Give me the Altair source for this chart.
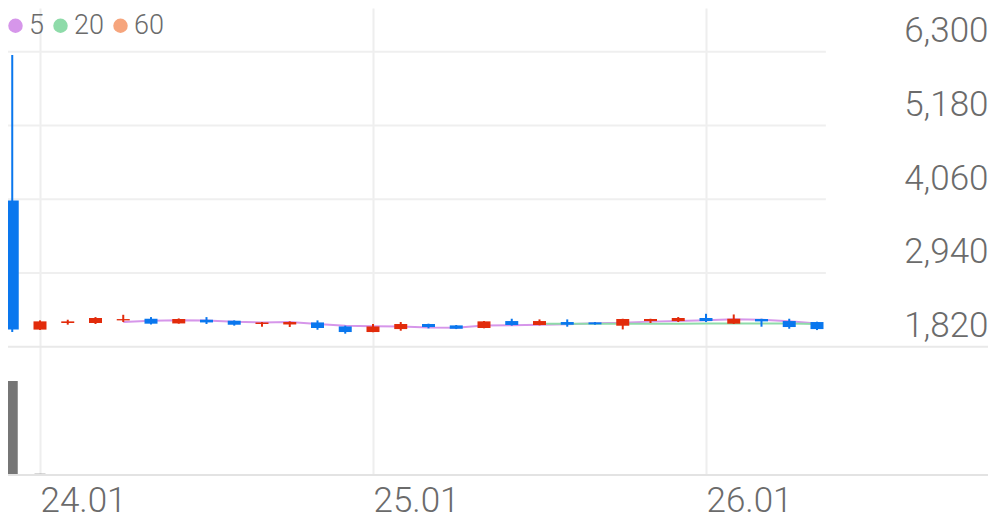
import altair as alt
import pandas as pd

months = ["23.12", "24.01", "24.02", "24.03", "24.04", "24.05", "24.06", "24.07", "24.08", "24.09",
          "24.10", "24.11", "24.12", "25.01", "25.02", "25.03", "25.04", "25.05", "25.06", "25.07",
          "25.08", "25.09", "25.10", "25.11", "25.12", "26.01", "26.02", "26.03", "26.04", "26.05"]
opens = [4040, 2080, 2180, 2180, 2220, 2245, 2174, 2230, 2215, 2165,
         2158, 2189, 2128, 2043, 2088, 2165, 2144, 2104, 2210, 2150,
         2195, 2190, 2139, 2210, 2210, 2256, 2170, 2241, 2210, 2195]
highs = [6250, 2220, 2230, 2270, 2305, 2270, 2250, 2270, 2220, 2195,
         2205, 2220, 2140, 2165, 2195, 2170, 2150, 2210, 2245, 2235,
         2235, 2195, 2245, 2245, 2271, 2320, 2310, 2245, 2245, 2200]
lows = [2045, 2075, 2155, 2165, 2195, 2158, 2170, 2165, 2140, 2124,
        2120, 2078, 2018, 2040, 2063, 2099, 2088, 2100, 2140, 2145,
        2124, 2155, 2083, 2180, 2195, 2195, 2165, 2124, 2093, 2073]
closes = [2080, 2205, 2205, 2256, 2240, 2170, 2241, 2189, 2154, 2189,
          2195, 2104, 2043, 2128, 2165, 2119, 2093, 2205, 2150, 2210,
          2154, 2160, 2241, 2241, 2256, 2210, 2245, 2205, 2119, 2088]
volumes = [3800000, 52000, 26000, 9000, 7000, 6000, 5000, 5000, 4000, 5000,
           4000, 6000, 9000, 7000, 5000, 4000, 5000, 6000, 5000, 4000,
           4000, 3000, 5000, 4000, 4000, 6000, 5000, 4000, 9000, 5000]

price_ticks = [1820, 2940, 4060, 5180, 6300]
ma_series = ["5", "20", "60"]
ma_colors = ["#d696ea", "#8edba9", "#f6a57d"]
UP = "#e22b0b"
DOWN = "#0a77ee"
VOL = "#767676"
TXT = "#6b6b6b"
FONT = "Roboto"

df = pd.DataFrame({"idx": list(range(len(months))), "month": months, "open": opens,
                   "high": highs, "low": lows, "close": closes, "volume": volumes})

W, H = 980, 467
x0 = -0.153
x1 = x0 + W / 27.75
grid_end = 29.32
xscale = alt.Scale(domain=[x0, x1], nice=False, zero=False, padding=0)
jan_idx = [i for i, m in enumerate(months) if m.endswith(".01")]
label_expr = "[" + ",".join("'%s'" % m for m in months) + "][datum.value]"
xaxis = alt.Axis(values=jan_idx, labelExpr=label_expr, title=None, grid=True,
                 gridColor="#eeeeee", gridWidth=2, domain=False, ticks=False, tickSize=0,
                 labelAlign="left", labelBaseline="alphabetic", labelPadding=36,
                 labelFontSize=35, labelFont=FONT, labelFontWeight=300, labelColor=TXT,
                 labelFlush=False, labelOverlap=False)
X = alt.X("idx:Q", scale=xscale, axis=xaxis)

pscale = alt.Scale(domain=[-128, 6964], nice=False, zero=False, padding=0)
yaxis = alt.Axis(orient="right", values=price_ticks, labelExpr="format(datum.value, ',')",
                 title=None, grid=False, domain=False, ticks=False, tickSize=0,
                 labelAlign="right", labelBaseline="alphabetic", labelOffset=-10,
                 labelPadding=0, labelFontSize=35, labelFont=FONT, labelFontWeight=300,
                 labelColor=TXT, labelFlush=False, labelOverlap=False)

vscale = alt.Scale(domain=[0, 18880000], nice=False, zero=True, padding=0)

grid = alt.Chart(pd.DataFrame({"v": price_ticks[1:]})).mark_rule(
    color="#efefef", strokeWidth=2).encode(
    y=alt.Y("v:Q", scale=pscale, axis=yaxis),
    x=alt.XDatum(x0, type="quantitative", scale=xscale, axis=xaxis),
    x2=alt.datum(grid_end))

sep = alt.Chart(pd.DataFrame({"v": price_ticks[:1]})).mark_rule(
    color="#e9e9e9", strokeWidth=2).encode(y=alt.Y("v:Q", scale=pscale, axis=yaxis))

ma_base = alt.Chart(df).transform_window(
    ma5="mean(close)", c5="count()", frame=[-4, 0], sort=[alt.SortField("idx")]
).transform_window(
    ma20="mean(close)", c20="count()", frame=[-19, 0], sort=[alt.SortField("idx")]
).transform_calculate(
    s5="datum.c5 >= 5 ? datum.ma5 : null",
    s20="datum.c20 >= 20 ? datum.ma20 : null",
).transform_fold(["s5", "s20"], as_=["key", "val"]).transform_filter(
    "datum.val != null"
).transform_calculate(series="slice(datum.key, 1)")

# line colours: only the averages that have data are drawn
ma = ma_base.mark_line(strokeWidth=2).encode(
    x=X, y=alt.Y("val:Q", scale=pscale, axis=yaxis),
    stroke=alt.Stroke("series:N", scale=alt.Scale(domain=ma_series[:2], range=ma_colors[:2]),
                      legend=None),
    detail="series:N")

# legend for all three averages (points are size 0, only the legend shows)
legend_pts = ma_base.mark_circle(size=0, opacity=1).encode(
    x=X, y=alt.Y("val:Q", scale=pscale, axis=yaxis),
    fill=alt.Fill("series:N", scale=alt.Scale(domain=ma_series, range=ma_colors),
                  legend=alt.Legend(title=None, orient="none", legendX=-6, legendY=4,
                                    direction="horizontal",
                                    symbolType="circle", symbolSize=210,
                                    symbolStrokeWidth=0, symbolOpacity=1, labelFontSize=27,
                                    labelFont=FONT, labelFontWeight=300, labelColor=TXT,
                                    labelOffset=0, columnPadding=3, padding=0)))

candle_color = alt.condition("datum.close >= datum.open", alt.value(UP), alt.value(DOWN))
wicks = alt.Chart(df).mark_rule(strokeWidth=2).encode(
    x=X, y=alt.Y("low:Q", scale=pscale, axis=yaxis), y2="high:Q", color=candle_color)
bodies = alt.Chart(df).mark_bar(size=13).encode(
    x=X, y=alt.Y("open:Q", scale=pscale, axis=yaxis), y2="close:Q", color=candle_color)

price = alt.layer(grid, sep, ma, legend_pts, wicks, bodies)

vbars = alt.Chart(df).mark_bar(size=11, color=VOL).encode(
    x=X, y=alt.Y("volume:Q", scale=vscale, axis=None))
vbase = alt.Chart(pd.DataFrame({"v": [0]})).mark_rule(color="#e3e3e3", strokeWidth=2).encode(
    y=alt.Y("v:Q", scale=vscale, axis=None))
volume = alt.layer(vbars, vbase)

chart = alt.layer(price, volume).resolve_scale(y="independent").properties(
    width=W, height=H,
    autosize=alt.AutoSizeParams(type="none"),
    padding={"left": 0, "top": 0, "right": 0, "bottom": 44},
).configure_view(strokeWidth=0)

chart.save("out.html", embed_options={"renderer": "svg", "actions": False})
